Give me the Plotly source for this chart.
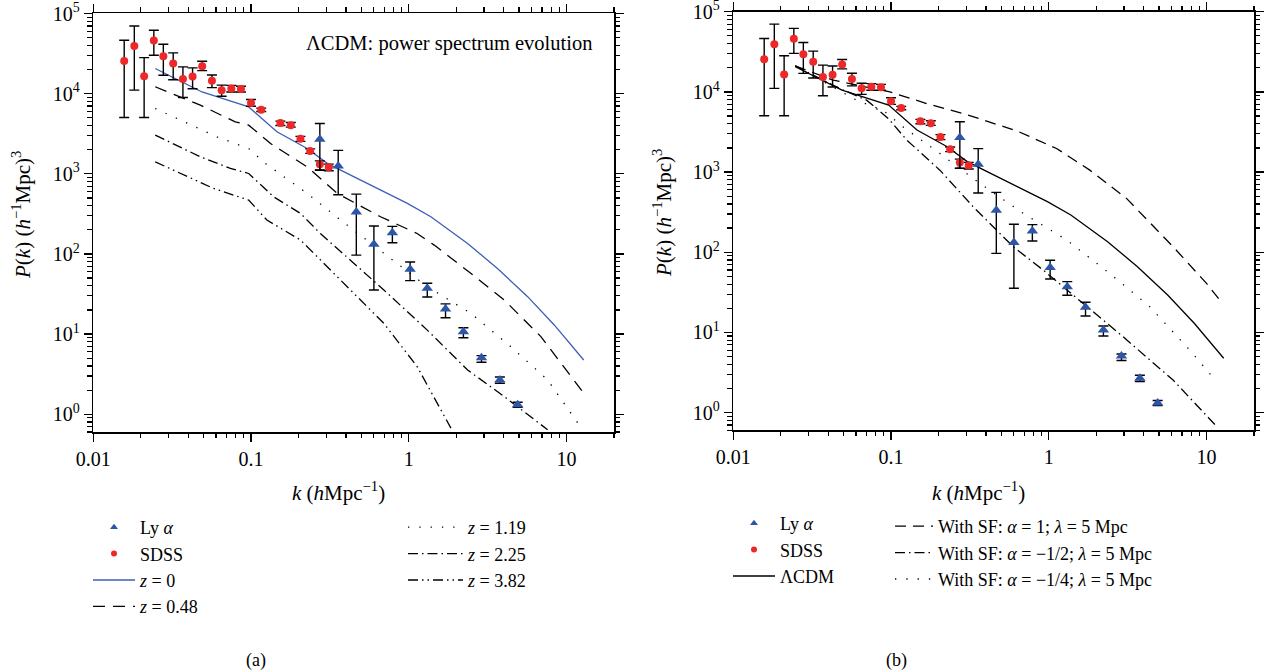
import math
import plotly.graph_objects as go

SERIF = "'Liberation Serif', 'Times New Roman', serif"

# ---------------- data ----------------
sdss_k = [0.0157, 0.0182, 0.0210, 0.0242, 0.0278, 0.0321, 0.0370, 0.0426, 0.0490, 0.0565,
          0.0651, 0.0750, 0.0863, 0.100, 0.116, 0.1535, 0.1786, 0.2057, 0.237, 0.273, 0.311]
sdss_P = [25600, 39400, 16500, 46000, 29400, 23800, 15300, 16400, 22000, 14450,
          11070, 11600, 11400, 7650, 6300, 4300, 4050, 2730, 1925, 1320, 1210]
sdss_hi = [46400, 70000, 28200, 62000, 41400, 32300, 21600, 21000, 25400, 17100,
           12800, 12700, 12400, 8470, 6600, 4540, 4370, 2930, 2050, 1450, 1320]
sdss_lo = [5050, 11070, 5050, 30200, 17000, 14900, 8970, 11500, 19400, 11900,
           9300, 10500, 10500, 6980, 6000, 4010, 3820, 2540, 1800, 1120, 1090]

lya_k = [0.273, 0.357, 0.465, 0.601, 0.787, 1.02, 1.31, 1.71, 2.22, 2.89, 3.78, 4.90]
lya_P = [2690, 1250, 333, 132, 184, 64.3, 37.2, 20.5, 10.7, 5.08, 2.68, 1.31]
lya_hi = [4250, 1960, 558, 223, 221, 79.2, 43.0, 23.8, 12.0, 5.38, 2.92, 1.41]
lya_lo = [1110, 547, 96.8, 35.5, 138, 46.4, 29.0, 16.0, 9.0, 4.45, 2.44, 1.22]

# panel (a): LCDM power spectrum at several redshifts
z0_k = [0.0247, 0.0489, 0.0966, 0.146, 0.227, 0.304, 0.428, 0.63, 0.98, 1.38, 2.36, 3.65, 5.67, 8.36, 12.85]
z0_P = [20600, 10500, 6840, 3340, 2070, 1350, 964, 658, 428, 291, 135, 66, 29.3, 13.0, 4.75]

z048_k = [0.0247, 0.0477, 0.0794, 0.0966, 0.133, 0.227, 0.352, 0.662, 1.13, 1.45, 2.47, 4.03, 6.88, 10.2, 12.85]
z048_P = [12200, 7190, 4450, 4050, 2390, 1220, 570, 291, 180, 129, 57.3, 26.6, 9.3, 3.4, 1.83]

z119_k = [0.0247, 0.0608, 0.0966, 0.123, 0.227, 0.369, 0.695, 1.31, 2.47, 4.43, 7.59, 12.05]
z119_P = [6530, 2890, 2070, 1350, 570, 265, 102, 39, 18.2, 6.97, 2.68, 0.73]

z225_k = [0.0247, 0.0477, 0.074, 0.0966, 0.139, 0.206, 0.275, 0.428, 0.695, 1.31, 2.36, 4.03, 7.59]
z225_P = [3040, 1630, 1167, 1010, 516, 320, 180, 84, 35.5, 11.2, 3.56, 1.66, 0.64]

z382_k = [0.0247, 0.0578, 0.0966, 0.126, 0.206, 0.407, 0.695, 1.13, 1.85]
z382_P = [1410, 658, 470, 265, 149, 39, 13.6, 3.93, 0.67]

# panel (b): with scalar field
sf1_k = [0.0247, 0.043, 0.0984, 0.168, 0.287, 0.625, 1.12, 1.82, 3.11, 6.14, 10.0, 12.6]
sf1_P = [21100, 14000, 10000, 7160, 5370, 3270, 1970, 1056, 469, 117, 40.8, 23]

sfm12_k = [0.0247, 0.0474, 0.070, 0.096, 0.126, 0.204, 0.332, 0.595, 0.92, 1.65, 2.96, 6.14, 11.6]
sfm12_P = [21100, 11000, 7890, 4660, 2500, 1056, 368, 117, 60, 23, 8.8, 2.54, 0.67]

sfm14_k = [0.0247, 0.0605, 0.089, 0.119, 0.204, 0.366, 0.689, 1.3, 2.44, 4.37, 7.83, 11.6]
sfm14_P = [21100, 7870, 5910, 3660, 1706, 721, 305, 142, 54, 20.9, 6.0, 2.42]

x_ticks = [0.01, 0.1, 1, 10]
x_ticktext = ["0.01", "0.1", "1", "10"]
y_ticks = [1, 10, 100, 1000, 10000, 100000]
y_ticktext = ["10<sup>0</sup>", "10<sup>1</sup>", "10<sup>2</sup>", "10<sup>3</sup>", "10<sup>4</sup>", "10<sup>5</sup>"]

# ---------------- styling ----------------
W, H = 1274, 672
BLUE_LINE = "#3b5fb6"
BLUE_MK = "#2d55a8"
RED = "#ee2828"

def px_x(p):
    return p / W

def px_y(p):
    return 1 - p / H

fig = go.Figure()

def err(vals, hi, lo):
    return dict(type="data", symmetric=False,
                array=[h - v for v, h in zip(vals, hi)],
                arrayminus=[v - l for v, l in zip(vals, lo)],
                color="black", thickness=1.4, width=5)

def add_panel(xa, ya, lines, leg_a, leg_b, first_leg_lines):
    fig.add_trace(go.Scatter(x=[None], y=[None], mode="markers", name="Ly <i>α</i>",
                             marker=dict(symbol="triangle-up", size=7, color=BLUE_MK),
                             legend=leg_a, xaxis=xa, yaxis=ya, legendrank=1))
    fig.add_trace(go.Scatter(x=[None], y=[None], mode="markers", name="SDSS",
                             marker=dict(symbol="circle", size=6, color=RED),
                             legend=leg_a, xaxis=xa, yaxis=ya, legendrank=2))
    for i, (k, p, name, color, dash) in enumerate(lines):
        fig.add_trace(go.Scatter(x=k, y=p, mode="lines", name=name,
                                 line=dict(color=color, width=1.3, dash=dash),
                                 legend=leg_a if i < first_leg_lines else leg_b,
                                 legendrank=3 + i, xaxis=xa, yaxis=ya))
    fig.add_trace(go.Scatter(x=sdss_k, y=sdss_P, mode="markers", showlegend=False,
                             marker=dict(symbol="circle", size=8, color=RED),
                             error_y=err(sdss_P, sdss_hi, sdss_lo), xaxis=xa, yaxis=ya))
    fig.add_trace(go.Scatter(x=lya_k, y=lya_P, mode="markers", showlegend=False,
                             marker=dict(symbol="triangle-up", size=10, color=BLUE_MK),
                             error_y=err(lya_P, lya_hi, lya_lo), xaxis=xa, yaxis=ya))

DASH = "12px,8px"
DASH_B = "11px,7px"
DOT = "1.3px,10px"
DASHDOT = "10px,4px,1.5px,4px"
DASHDOTDOT = "10px,4px,1.5px,4px,1.5px,4px"

lines_a = [
    (z0_k, z0_P, "<i>z</i> = 0", BLUE_LINE, "solid"),
    (z048_k, z048_P, "<i>z</i> = 0.48", "black", DASH),
    (z119_k, z119_P, "<i>z</i> = 1.19", "black", DOT),
    (z225_k, z225_P, "<i>z</i> = 2.25", "black", DASHDOT),
    (z382_k, z382_P, "<i>z</i> = 3.82", "black", DASHDOTDOT),
]
lines_b = [
    (z0_k, z0_P, "ΛCDM", "black", "solid"),
    (sf1_k, sf1_P, "With SF: <i>α</i> = 1; <i>λ</i> = 5 Mpc", "black", DASH_B),
    (sfm12_k, sfm12_P, "With SF: <i>α</i> = −1/2; <i>λ</i> = 5 Mpc", "black", DASHDOT),
    (sfm14_k, sfm14_P, "With SF: <i>α</i> = −1/4; <i>λ</i> = 5 Mpc", "black", DOT),
]

add_panel("x", "y", lines_a, "legend", "legend2", 2)
add_panel("x2", "y2", lines_b, "legend3", "legend4", 1)

x_minor = [m * d for d in (0.01, 0.1, 1, 10) for m in range(2, 10) if m * d <= 20]
y_minor = [0.6, 0.7, 0.8, 0.9] + [m * d for d in (1, 10, 100, 1000, 10000) for m in range(2, 10)]

tickfont = dict(family=SERIF, size=20, color="black")
common = dict(type="log", showline=True, linecolor="black", linewidth=1.5, mirror="ticks",
              ticks="outside", ticklen=8, tickwidth=1.3, tickcolor="black",
              showgrid=False, zeroline=False, tickfont=tickfont, automargin=False,
              ticklabeloverflow="allow")
xcommon = dict(common, range=[-2, math.log10(20)], tickmode="array", tickvals=x_ticks,
               ticktext=x_ticktext,
               minor=dict(tickmode="array", tickvals=x_minor, ticks="outside", ticklen=4.5,
                          tickwidth=1.2, tickcolor="black", showgrid=False))
ycommon = dict(common, range=[math.log10(0.6), 5.003], tickmode="array", tickvals=y_ticks,
               ticktext=y_ticktext,
               minor=dict(tickmode="array", tickvals=y_minor, ticks="outside", ticklen=4.5,
                          tickwidth=1.2, tickcolor="black", showgrid=False))

legfont = dict(family=SERIF, size=18, color="black")
legbase = dict(font=legfont, bgcolor="rgba(0,0,0,0)", borderwidth=0, xanchor="left",
               yanchor="top", itemsizing="trace", tracegroupgap=0)

fig.update_layout(
    template="none",
    width=W, height=H, autosize=False,
    margin=dict(l=0, r=0, t=0, b=0, pad=0),
    paper_bgcolor="white", plot_bgcolor="white",
    font=dict(family=SERIF, size=19, color="black"),
    xaxis=dict(xcommon, domain=[px_x(93.3), px_x(614)], anchor="y"),
    yaxis=dict(ycommon, domain=[px_y(432), px_y(13.3)], anchor="x"),
    xaxis2=dict(xcommon, domain=[px_x(733.3), px_x(1254)], anchor="y2"),
    yaxis2=dict(ycommon, domain=[px_y(430.3), px_y(11.5)], anchor="x2"),
    legend=dict(legbase, x=px_x(88), y=px_y(509), itemwidth=42),
    legend2=dict(legbase, x=px_x(403), y=px_y(509), itemwidth=55),
    legend3=dict(legbase, x=px_x(728), y=px_y(505), itemwidth=42),
    legend4=dict(legbase, x=px_x(890), y=px_y(508), itemwidth=38),
    showlegend=True,
)

ann = []
def add_ann(text, x, y, size=19, angle=0):
    ann.append(dict(text=text, x=px_x(x), y=px_y(y), xref="paper", yref="paper",
                    xanchor="center", yanchor="middle", showarrow=False, textangle=angle,
                    font=dict(family=SERIF, size=size, color="black")))

add_ann("ΛCDM: power spectrum evolution", 449, 43, size=20.5)
ytitle = "<i>P</i>(<i>k</i>) (<i>h</i><sup>−1</sup>Mpc)<sup>3</sup>"
xtitle = "<i>k</i> (<i>h</i>Mpc<sup>−1</sup>)"
add_ann(ytitle, 22, 215, size=21, angle=-90)
add_ann(ytitle, 662, 213, size=21, angle=-90)
add_ann(xtitle, 338, 492, size=21)
add_ann(xtitle, 978, 492, size=21)
add_ann("(a)", 256, 660, size=18)
add_ann("(b)", 896, 660, size=18)
fig.update_layout(annotations=ann)

fig.write_html("out.html", config={"displayModeBar": False, "staticPlot": True},
               post_script="document.body.style.margin='0px';")
